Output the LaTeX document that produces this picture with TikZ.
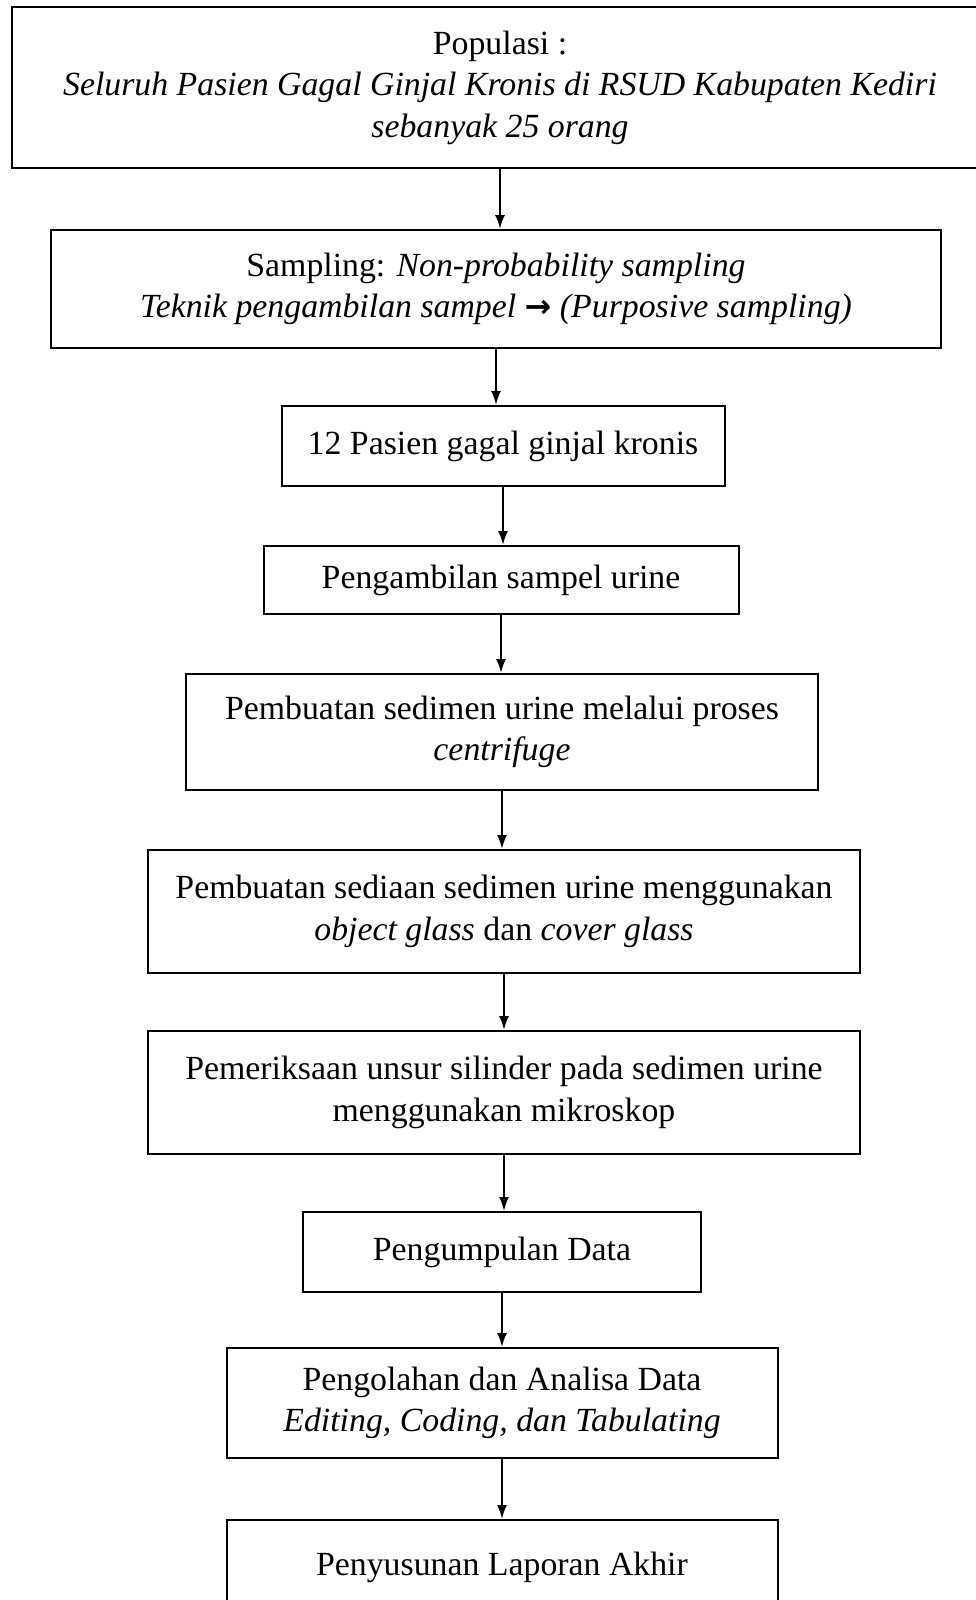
\documentclass[tikz,border=0pt]{standalone}
\usepackage{fontspec}
\setmainfont{Liberation Serif}
\newfontfamily\simbol{DejaVu Sans}
\usetikzlibrary{arrows.meta}
\tikzset{
  kotak/.style={draw, line width=2pt, align=center, inner sep=0pt,
    font=\fontsize{33.8}{41.5}\selectfont},
  panah/.style={-{Latex[length=14pt,width=10pt]}, line width=2pt}
}

\begin{document}
\begin{tikzpicture}[x=1pt,y=1pt]
        \useasboundingbox (0,0) rectangle (976,-1600);

        \node[kotak, minimum width=976, minimum height=161] (populasi) at (500,-87.5)
            {Populasi :\\ \textit{Seluruh Pasien Gagal Ginjal Kronis di RSUD Kabupaten Kediri}\\ \textit{sebanyak 25 orang}};
        \node[kotak, minimum width=890, minimum height=118] (sampling) at (496,-289)
            {Sampling: \textit{Non-probability sampling}\\ \textit{Teknik pengambilan sampel {\simbol\bfseries\fontsize{32}{32}\selectfont →} (Purposive sampling)}};
        \node[kotak, minimum width=443, minimum height=80] (pasien) at (503,-446)
            {\raisebox{-4pt}{12 Pasien gagal ginjal kronis}};
        \node[kotak, minimum width=475, minimum height=68] (urine) at (501,-580)
            {\raisebox{-3pt}{Pengambilan sampel urine}};
        \node[kotak, minimum width=632, minimum height=116] (sedimen) at (502,-732)
            {Pembuatan sedimen urine melalui proses\\ \textit{centrifuge}};
        \node[kotak, minimum width=712, minimum height=123] (sediaan) at (504,-911.5)
            {Pembuatan sediaan sedimen urine menggunakan\\ \textit{object glass} dan \textit{cover glass}};
        \node[kotak, minimum width=712, minimum height=123] (periksa) at (504,-1092.5)
            {Pemeriksaan unsur silinder pada sedimen urine\\ menggunakan mikroskop};
        \node[kotak, minimum width=398, minimum height=80] (kumpul) at (502,-1252)
            {\raisebox{-4pt}{Pengumpulan Data}};
        \node[kotak, minimum width=551, minimum height=110] (olah) at (502,-1403)
            {Pengolahan dan Analisa Data\\ \textit{Editing, Coding, dan Tabulating}};
        \node[kotak, minimum width=551, minimum height=100] (laporan) at (502,-1570)
            {\raisebox{13pt}{Penyusunan Laporan Akhir}};

        \draw[panah] (populasi.south) -- (populasi.south |- sampling.north);
        \draw[panah] (sampling.south) -- (sampling.south |- pasien.north);
        \draw[panah] (pasien.south) -- (pasien.south |- urine.north);
        \draw[panah] (urine.south) -- (urine.south |- sedimen.north);
        \draw[panah] (sedimen.south) -- (sedimen.south |- sediaan.north);
        \draw[panah] (sediaan.south) -- (sediaan.south |- periksa.north);
        \draw[panah] (periksa.south) -- (periksa.south |- kumpul.north);
        \draw[panah] (kumpul.south) -- (kumpul.south |- olah.north);
        \draw[panah] (olah.south) -- (olah.south |- laporan.north);
    \end{tikzpicture}
\end{document}
